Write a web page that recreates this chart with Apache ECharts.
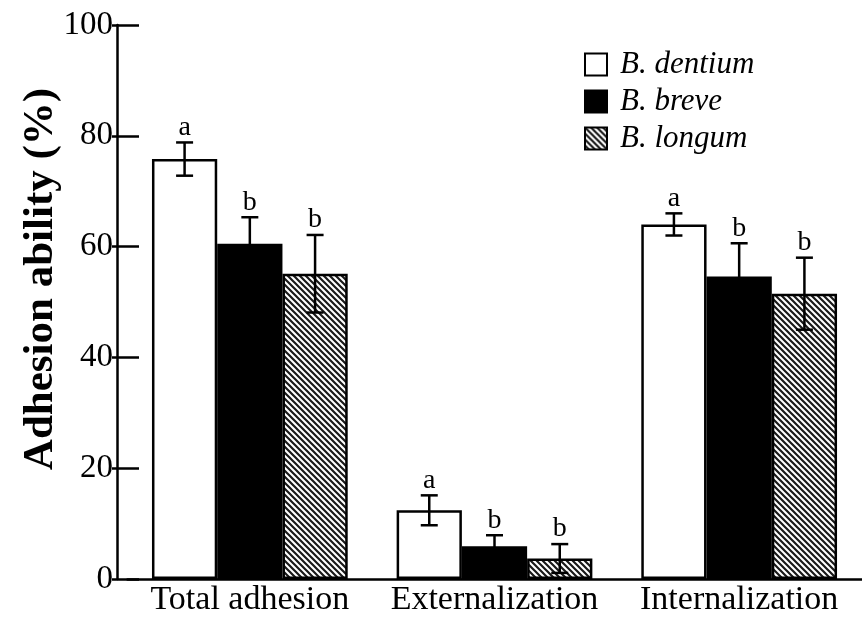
<!DOCTYPE html>
<html>
<head>
<meta charset="utf-8">
<script src="https://cdn.jsdelivr.net/npm/echarts@6/dist/echarts.min.js"></script>
<style>html,body{margin:0;padding:0;background:#fff;}#c{width:862px;height:617px;}</style>
</head>
<body>
<div id="c"></div>
<script>
const categories = ['Total adhesion', 'Externalization', 'Internalization'];
const seriesNames = ['B. dentium', 'B. breve', 'B. longum'];
const dentium = [75.8, 12.4, 64.0];
const breve = [60.5, 5.9, 54.6];
const longum = [55.1, 3.7, 51.5];
const dentiumErr = [3.0, 2.7, 2.0];
const breveErr = [4.8, 2.0, 6.0];
const longumErr = [7.0, 2.6, 6.5];
const dentiumSig = ['a', 'a', 'a'];
const breveSig = ['b', 'b', 'b'];
const longumSig = ['b', 'b', 'b'];
const yMin = 0, yMax = 100, yStep = 20;

const FONT = 'Liberation Serif';

function hatchPattern() {
  const s = 6;
  const c = document.createElement('canvas');
  c.width = s; c.height = s;
  const g = c.getContext('2d');
  g.fillStyle = '#ffffff';
  g.fillRect(0, 0, s, s);
  g.strokeStyle = '#1a1a1a';
  g.lineWidth = 2.2;
  g.beginPath();
  for (let k = -1; k <= 1; k++) {
    g.moveTo(-1, -1 + k * s);
    g.lineTo(s + 1, s + 1 + k * s);
  }
  g.stroke();
  return c;
}

const values = [dentium, breve, longum];
const errs = [dentiumErr, breveErr, longumErr];
const sigs = [dentiumSig, breveSig, longumSig];
const fills = ['#ffffff', '#000000', { image: hatchPattern(), repeat: 'repeat' }];

const errData = [];
for (let k = 0; k < 3; k++) {
  for (let i = 0; i < categories.length; i++) {
    errData.push([i, values[k][i], errs[k][i], k, sigs[k][i]]);
  }
}

const barSeries = seriesNames.map((n, k) => ({
  name: n,
  type: 'bar',
  data: values[k],
  barGap: '0%',
  barCategoryGap: '20%',
  itemStyle: { color: fills[k], borderColor: '#000', borderWidth: 2.5 },
  emphasis: { disabled: true },
  z: 2
}));

const errSeries = {
  type: 'custom',
  data: errData,
  z: 5,
  silent: true,
  renderItem: function (params, api) {
    const ci = api.value(0), v = api.value(1), e = api.value(2), k = api.value(3);
    const letter = errData[params.dataIndex][4];
    const catW = api.size([1, 0])[0];
    const barW = catW * 0.8 / 3;
    const c = api.coord([ci, v]);
    const x = c[0] + (k - 1) * barW;
    const top = api.coord([ci, v + e])[1];
    const bot = api.coord([ci, v - e])[1];
    const hw = 8.5;
    const st = { stroke: '#000', lineWidth: 2.5 };
    return {
      type: 'group',
      children: [
        { type: 'line', shape: { x1: x, y1: top, x2: x, y2: bot }, style: st },
        { type: 'line', shape: { x1: x - hw, y1: top, x2: x + hw, y2: top }, style: st },
        { type: 'line', shape: { x1: x - hw, y1: bot, x2: x + hw, y2: bot }, style: st },
        { type: 'text', x: x, y: top - 1, style: { text: letter, fill: '#000', font: '28px "' + FONT + '"', align: 'center', verticalAlign: 'bottom' } }
      ]
    };
  }
};

const chart = echarts.init(document.getElementById('c'), null, { renderer: 'canvas' });
chart.setOption({
  animation: false,
  backgroundColor: '#fff',
  grid: { left: 127.5, right: 0.5, top: 25, bottom: 37, containLabel: false },
  legend: {
    data: seriesNames,
    orient: 'vertical',
    left: 579,
    top: 44,
    itemWidth: 22,
    itemHeight: 22,
    itemGap: 6,
    icon: 'rect',
    textStyle: { fontFamily: FONT, fontStyle: 'italic', fontSize: 31, color: '#000', lineHeight: 30, padding: [0, 0, 0, 8] },
    selectedMode: false
  },
  xAxis: {
    type: 'category',
    data: categories,
    axisLine: { lineStyle: { color: '#000', width: 2.5 } },
    axisTick: { show: false },
    axisLabel: { color: '#000', fontFamily: FONT, fontSize: 34, margin: 4, interval: 0, hideOverlap: false }
  },
  yAxis: [{
    type: 'value',
    min: yMin, max: yMax, interval: yStep,
    offset: 10.5,
    splitLine: { show: false },
    axisLine: { show: true, lineStyle: { color: '#000', width: 2.5 } },
    axisTick: { show: true, inside: true, length: 22, lineStyle: { color: '#000', width: 2.5 } },
    axisLabel: { color: '#000', fontFamily: FONT, fontSize: 33, margin: 4 },
    name: 'Adhesion ability (%)',
    nameLocation: 'middle',
    nameGap: 55,
    nameMoveOverlap: false,
    nameTextStyle: { color: '#000', fontFamily: FONT, fontWeight: 'bold', fontSize: 43, padding: [0, 0, 0, 46] }
  }, {
    type: 'value',
    min: yMin, max: yMax, interval: yStep,
    offset: 10.5,
    position: 'left',
    splitLine: { show: false },
    axisLine: { show: false },
    axisTick: { show: true, inside: false, length: 5, lineStyle: { color: '#000', width: 2.5 } },
    axisLabel: { show: false }
  }],
  series: barSeries.concat([errSeries])
});
</script>
</body>
</html>
